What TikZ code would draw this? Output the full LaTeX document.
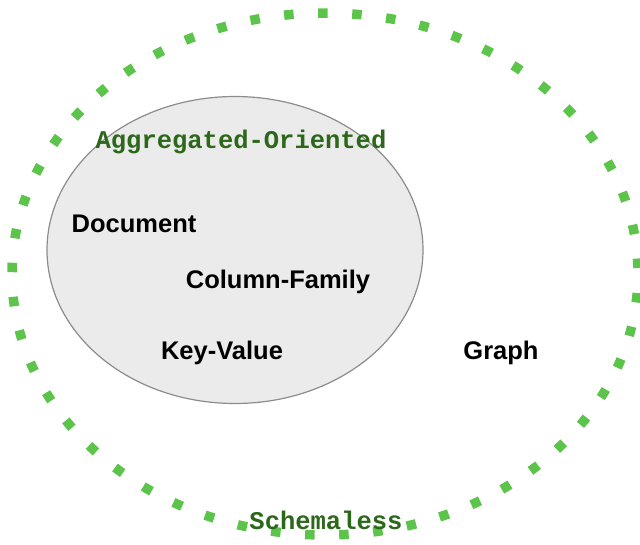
\documentclass[tikz,border=0pt]{standalone}
\usepackage{fontspec}
\usetikzlibrary{shapes.geometric}
\newfontfamily\labelfont{Liberation Sans}
\newfontfamily\codefont{Liberation Mono}
\definecolor{dotgreen}{RGB}{92,196,74}
\definecolor{codegreen}{RGB}{44,104,26}
\definecolor{aggfill}{RGB}{235,235,235}
\definecolor{aggline}{RGB}{140,140,140}
\begin{document}
\begin{tikzpicture}[x=1pt,y=-1pt,
  kind/.style={font=\labelfont\bfseries\fontsize{25.5}{30}\selectfont, inner sep=0},
  group/.style={font=\codefont\bfseries\fontsize{25.5}{30}\selectfont, text=codegreen, inner sep=0}]
\useasboundingbox (0,0) rectangle (640,544);
% outer ring
\node[ellipse, draw=dotgreen, line width=9.5pt, dash pattern=on 9.5pt off 24.59pt, dash phase=28.09pt,
  minimum width=626pt, minimum height=522pt, inner sep=0] (schemaring) at (325,274) {};
% inner ellipse
\node[ellipse, draw=aggline, fill=aggfill, line width=1.2pt,
  minimum width=376pt, minimum height=307pt, inner sep=0] (aggring) at (235,250) {};
\node[group] (aggtitle) at (241,142) {Aggregated-Oriented};
\node[group] (schematitle) at (326,520) {Schemaless};
\node[kind] (document) at (134,224) {Document};
\node[kind] (column) at (278,282) {Column-Family};
\node[kind] (keyvalue) at (222,353) {Key-Value};
\node[kind] (graph) at (501,353) {Graph};
\end{tikzpicture}
\end{document}
